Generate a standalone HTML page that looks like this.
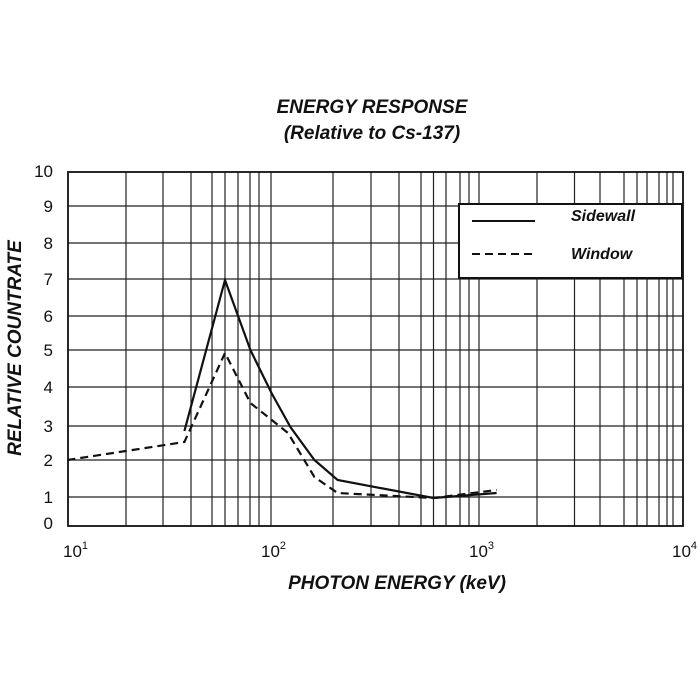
<!DOCTYPE html>
<html><head><style>body{margin:0;background:#fff}svg{display:block}</style></head><body>
<svg width="700" height="700" xmlns="http://www.w3.org/2000/svg" font-family="Liberation Sans, Arial, sans-serif">
<rect width="700" height="700" fill="#fff"/>
<g font-weight="bold" font-style="italic" font-size="19" text-anchor="middle" fill="#111">
<text x="372" y="113">ENERGY RESPONSE</text>
<text x="372" y="139">(Relative to Cs-137)</text>
<text x="397" y="589">PHOTON ENERGY (keV)</text>
<text transform="translate(21,348) rotate(-90)">RELATIVE COUNTRATE</text>
</g>
<g stroke="#222" stroke-width="1.2">
<line x1="68" y1="497" x2="683" y2="497"/><line x1="68" y1="460" x2="683" y2="460"/>
<line x1="68" y1="426" x2="683" y2="426"/><line x1="68" y1="387" x2="683" y2="387"/>
<line x1="68" y1="350" x2="683" y2="350"/><line x1="68" y1="316" x2="683" y2="316"/>
<line x1="68" y1="279" x2="683" y2="279"/><line x1="68" y1="243" x2="683" y2="243"/>
<line x1="68" y1="206" x2="683" y2="206"/>
<line x1="126" y1="172" x2="126" y2="526"/><line x1="163" y1="172" x2="163" y2="526"/>
<line x1="191" y1="172" x2="191" y2="526"/><line x1="212" y1="172" x2="212" y2="526"/>
<line x1="225" y1="172" x2="225" y2="526"/><line x1="238" y1="172" x2="238" y2="526"/>
<line x1="250" y1="172" x2="250" y2="526"/><line x1="259" y1="172" x2="259" y2="526"/>
<line x1="271" y1="172" x2="271" y2="526"/>
<line x1="333" y1="172" x2="333" y2="526"/><line x1="371" y1="172" x2="371" y2="526"/>
<line x1="399" y1="172" x2="399" y2="526"/><line x1="421" y1="172" x2="421" y2="526"/>
<line x1="433.5" y1="172" x2="433.5" y2="526"/><line x1="446" y1="172" x2="446" y2="526"/>
<line x1="460" y1="172" x2="460" y2="526"/><line x1="469" y1="172" x2="469" y2="526"/>
<line x1="479" y1="172" x2="479" y2="526"/>
<line x1="537" y1="172" x2="537" y2="526"/><line x1="574.5" y1="172" x2="574.5" y2="526"/>
<line x1="600" y1="172" x2="600" y2="526"/><line x1="624" y1="172" x2="624" y2="526"/>
<line x1="637" y1="172" x2="637" y2="526"/><line x1="647" y1="172" x2="647" y2="526"/>
<line x1="659" y1="172" x2="659" y2="526"/><line x1="667" y1="172" x2="667" y2="526"/>
<line x1="673" y1="172" x2="673" y2="526"/>
</g>
<rect x="68" y="172" width="615" height="354" fill="none" stroke="#111" stroke-width="1.8"/>
<rect x="459" y="204" width="223" height="74" fill="#fff" stroke="#111" stroke-width="2"/>
<line x1="472" y1="221" x2="535" y2="221" stroke="#111" stroke-width="2"/>
<line x1="472" y1="254" x2="535" y2="254" stroke="#111" stroke-width="2" stroke-dasharray="8,5"/>
<g font-weight="bold" font-style="italic" font-size="16" fill="#111">
<text x="571" y="221">Sidewall</text><text x="571" y="259">Window</text>
</g>
<polyline fill="none" stroke="#111" stroke-width="2.2" points="184.4,431 225,280 250.4,350 271.5,393 290.4,427 314.4,460 337.6,480 433.5,498 496.6,493"/>
<polyline fill="none" stroke="#111" stroke-width="2.2" stroke-dasharray="8,5" points="67.4,460 184.4,442 225,353 250.4,403 288,433 314.4,477 337.6,493 433.5,498 496.6,490"/>
<g font-size="17" text-anchor="end" fill="#111">
<text x="53" y="177">10</text><text x="53" y="212">9</text><text x="53" y="249">8</text>
<text x="53" y="285">7</text><text x="53" y="322">6</text><text x="53" y="356">5</text>
<text x="53" y="393">4</text><text x="53" y="432">3</text><text x="53" y="466">2</text>
<text x="53" y="503">1</text><text x="53" y="529">0</text>
</g>
<g font-size="17" fill="#111">
<text x="63" y="557">10<tspan font-size="11" dy="-8">1</tspan></text>
<text x="261" y="557">10<tspan font-size="11" dy="-8">2</tspan></text>
<text x="469" y="557">10<tspan font-size="11" dy="-8">3</tspan></text>
<text x="672" y="557">10<tspan font-size="11" dy="-8">4</tspan></text>
</g>
</svg>
</body></html>
